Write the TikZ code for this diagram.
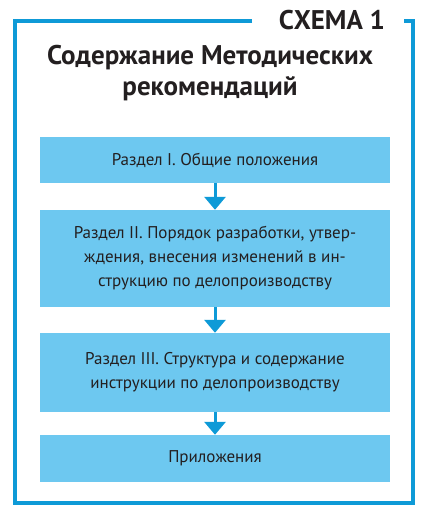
\documentclass[tikz,border=0pt]{standalone}
\usepackage{fontspec}
\setmainfont{PT Sans}
\usepackage{tikz}
\usetikzlibrary{arrows.meta}

\definecolor{ramka}{HTML}{0E9AD7}
\definecolor{zalivka}{HTML}{6DC8F0}
\definecolor{tekst}{HTML}{231F20}

\tikzset{
  razdel/.style={fill=zalivka, minimum width=350pt, inner sep=0pt, align=center,
    text=tekst, font=\fontsize{17}{24}\selectfont},
  strelka/.style={draw=ramka, line width=3pt,
    -{Triangle[width=21pt,length=13pt]}, ramka}
}

\begin{document}
\begin{tikzpicture}[x=1pt,y=-1pt]
\useasboundingbox (0,0) rectangle (421,512);
\fill[white] (0,0) rectangle (421,512);

% ramka
\draw[ramka, line width=4pt] (252,21) -- (15,21) -- (15,503) -- (413,503) -- (413,21) -- (404,21);
\node[text=tekst, font=\bfseries\fontsize{27}{27}\selectfont] (shema) at (332,20) {СХЕМА 1};

\node[text=tekst, align=center, font=\bfseries\fontsize{27}{31}\selectfont] (zag) at (210,73)
  {Содержание Методических\\рекомендаций};

\node[razdel, minimum height=46pt] (r1) at (215,160) {Раздел I. Общие положения};
\node[razdel, minimum height=97pt] (r2) at (215,258.5)
  {Раздел II. Порядок разработки, утвер-\\ждения, внесения изменений в ин-\\струкцию по делопроизводству};
\node[razdel, minimum height=79pt] (r3) at (215,372.5)
  {Раздел III. Структура и содержание\\инструкции по делопроизводству};
\node[razdel, minimum height=47pt] (r4) at (215,458.5) {Приложения};

\draw[strelka] (r1.south) -- (r2.north);
\draw[strelka] (r2.south) -- (r3.north);
\draw[strelka] (r3.south) -- (r4.north);

\end{tikzpicture}
\end{document}
